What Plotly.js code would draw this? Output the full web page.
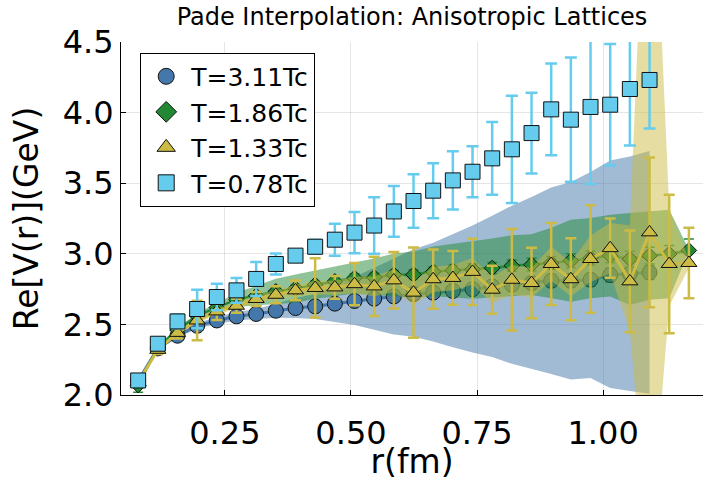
<!DOCTYPE html>
<html>
<head>
<meta charset="utf-8">
<script src="https://cdn.plot.ly/plotly-3.0.1.min.js"></script>
<style>html,body{margin:0;padding:0;background:#fff;}#chart{width:704px;height:481px;}</style>
</head>
<body>
<div id="chart"></div>
<script>
// r (fm) for lattice separations n = 2..30
const rAll = [0.078,0.117,0.156,0.195,0.234,0.273,0.312,0.351,0.390,0.429,0.468,0.507,0.546,0.585,0.624,0.663,0.702,0.741,0.780,0.819,0.858,0.897,0.936,0.975,1.014,1.053,1.092,1.131,1.170];
const r28 = rAll.slice(0, 27);

// T = 3.11 Tc (circles), n = 2..28
const vCircle = [2.10,2.33,2.42,2.49,2.528,2.557,2.574,2.597,2.616,2.628,2.647,2.666,2.682,2.698,2.715,2.725,2.737,2.749,2.769,2.781,2.793,2.809,2.809,2.816,2.85,2.859,2.868];
const eCircle = [0.01,0.01,0.01,0.01,0.01,0.01,0.01,0.015,0.015,0.015,0.02,0.02,0.02,0.02,0.025,0.025,0.03,0.03,0.035,0.035,0.04,0.04,0.045,0.045,0.05,0.05,0.05];
const bandCircleLo = [2.09,2.32,2.405,2.47,2.503,2.527,2.539,2.547,2.546,2.538,2.517,2.496,2.462,2.428,2.412,2.379,2.339,2.301,2.269,2.221,2.183,2.149,2.109,2.12,2.05,2.029,2.008];
const bandCircleHi = [2.11,2.34,2.435,2.51,2.553,2.587,2.609,2.647,2.686,2.718,2.777,2.836,2.902,2.968,3.032,3.079,3.139,3.201,3.269,3.341,3.403,3.469,3.509,3.58,3.66,3.689,3.728];

// T = 1.86 Tc (diamonds), n = 2..30
const vDiamond = [2.07,2.34,2.46,2.56,2.62,2.675,2.703,2.734,2.753,2.781,2.805,2.829,2.833,2.852,2.852,2.874,2.882,2.89,2.899,2.916,2.923,2.935,2.951,2.97,2.987,2.963,2.987,2.999,3.024];
const eDiamond = [0.05,0.02,0.02,0.02,0.02,0.02,0.02,0.025,0.025,0.025,0.03,0.03,0.03,0.03,0.035,0.035,0.035,0.04,0.04,0.04,0.045,0.045,0.05,0.05,0.05,0.055,0.06,0.06,0.08];
const bandDiamondLo = [2.06,2.33,2.445,2.54,2.59,2.625,2.633,2.644,2.653,2.681,2.70,2.719,2.706,2.702,2.687,2.70,2.69,2.682,2.689,2.701,2.708,2.685,2.661,2.686,2.697,2.637,2.674,2.686,3.02];
const bandDiamondHi = [2.08,2.35,2.475,2.58,2.65,2.725,2.773,2.824,2.853,2.881,2.91,2.939,2.966,3.002,3.017,3.052,3.07,3.092,3.109,3.131,3.138,3.185,3.241,3.254,3.277,3.289,3.30,3.312,3.03];

// T = 1.33 Tc (triangles), n = 2..30
const vTriangle = [2.09,2.32,2.44,2.528,2.592,2.632,2.68,2.71,2.741,2.758,2.762,2.785,2.769,2.812,2.725,2.82,2.829,2.872,2.746,2.816,2.793,2.928,2.82,2.963,3.04,2.805,3.152,2.928,2.935];
const eTriangle = [0.02,0.03,0.04,0.14,0.06,0.05,0.05,0.06,0.07,0.21,0.08,0.15,0.21,0.2,0.32,0.21,0.19,0.235,0.17,0.36,0.25,0.29,0.29,0.38,0.21,0.36,0.53,0.49,0.25];
const bandTriangleLo = [2.08,2.31,2.43,2.51,2.57,2.61,2.65,2.68,2.70,2.71,2.71,2.72,2.70,2.73,2.64,2.73,2.74,2.78,2.65,2.71,2.69,2.81,2.70,2.80,2.86,2.45,0.93,2.63,2.90];
const bandTriangleHi = [2.10,2.33,2.45,2.55,2.61,2.66,2.71,2.74,2.78,2.81,2.81,2.84,2.84,2.89,2.80,2.91,2.92,2.97,2.84,2.92,2.90,3.05,2.94,3.13,3.22,3.20,6.50,3.32,2.96];

// T = 0.78 Tc (squares), n = 2..28
const vSquare = [2.103,2.363,2.521,2.609,2.694,2.741,2.822,2.928,2.987,3.05,3.10,3.15,3.20,3.30,3.374,3.447,3.52,3.581,3.676,3.74,3.855,4.023,3.95,4.04,4.056,4.167,4.231];
const eSquare = [0.02,0.03,0.05,0.137,0.094,0.087,0.12,0.075,0.03,0.05,0.113,0.146,0.2,0.18,0.19,0.195,0.207,0.18,0.257,0.38,0.286,0.325,0.44,0.546,0.43,0.4,0.343];

const seriesNames = ['T=3.11Tc','T=1.86Tc','T=1.33Tc','T=0.78Tc'];
const xTickVals = [0.25,0.50,0.75,1.00];
const xTickText = ['0.25','0.50','0.75','1.00'];
const yTickVals = [2.0,2.5,3.0,3.5,4.0,4.5];
const yTickText = ['2.0','2.5','3.0','3.5','4.0','4.5'];

const C_BLUE = '#4477AA', C_GREEN = '#228833', C_YEL = '#CCBB44', C_CYAN = '#66CCEE';
const SYMBOLS = ['circle','diamond','triangle-up','square'];
const COLORS = [C_BLUE, C_GREEN, C_YEL, C_CYAN];

function band(x, lo, hi, fill) {
  return {
    x: x.concat(x.slice().reverse()),
    y: hi.concat(lo.slice().reverse()),
    mode: 'lines', fill: 'toself', fillcolor: fill,
    line: {width: 0, color: 'rgba(0,0,0,0)'},
    hoverinfo: 'skip', showlegend: false, type: 'scatter'
  };
}
function line(x, y, color, w) {
  return {x: x, y: y, type: 'scatter', mode: 'lines', line: {color: color, width: w},
          showlegend: false, hoverinfo: 'skip'};
}
function pts(x, y, err, i, size, ecol, eth, ew) {
  return {x: x, y: y, name: seriesNames[i], type: 'scatter', mode: 'markers', showlegend: false,
          error_y: {type: 'data', array: err, color: ecol, thickness: eth, width: ew},
          marker: {symbol: SYMBOLS[i], size: size, color: COLORS[i], line: {color: '#111', width: 1}}};
}
// legend-only entries (no data drawn), so the legend symbols can be larger than the plot markers
function legendEntry(i) {
  return {x: [null], y: [null], name: seriesNames[i], type: 'scatter', mode: 'markers', showlegend: true,
          marker: {symbol: SYMBOLS[i], size: 20, color: COLORS[i], line: {color: '#111', width: 1}}};
}

const traces = [
  band(r28, bandCircleLo, bandCircleHi, 'rgba(68,119,170,0.5)'),
  line(r28, vCircle, C_BLUE, 3),
  pts(r28, vCircle, eCircle, 0, 15, C_BLUE, 1.5, 5),
  band(rAll, bandDiamondLo, bandDiamondHi, 'rgba(34,136,51,0.5)'),
  line(rAll, vDiamond, C_GREEN, 2.5),
  pts(rAll, vDiamond, eDiamond, 1, 12, C_GREEN, 1.5, 5),
  band(rAll, bandTriangleLo, bandTriangleHi, 'rgba(204,187,68,0.5)'),
  line(rAll, vTriangle, C_YEL, 3),
  pts(rAll, vTriangle, eTriangle, 2, 14, C_YEL, 2.5, 5.5),
  pts(r28, vSquare, eSquare, 3, 15, C_CYAN, 2.5, 6),
  legendEntry(0), legendEntry(1), legendEntry(2), legendEntry(3)
];

const layout = {
  width: 704, height: 481,
  margin: {l: 121, r: 1, t: 42, b: 86},
  paper_bgcolor: '#fff', plot_bgcolor: '#fff',
  font: {family: 'DejaVu Sans, sans-serif', color: '#000'},
  title: {text: 'Pade Interpolation: Anisotropic Lattices', font: {size: 24, color: '#000'},
          xref: 'paper', x: 0.5, xanchor: 'center', yref: 'container', y: 0.965, yanchor: 'middle'},
  showlegend: true,
  legend: {x: 0.033, y: 0.97, xanchor: 'left', yanchor: 'top', bgcolor: '#fff',
           bordercolor: '#000', borderwidth: 1, font: {size: 25, color: '#000'},
           itemsizing: 'trace', itemwidth: 40, traceorder: 'normal'},
  xaxis: {range: [0.044, 1.198], tickvals: xTickVals, ticktext: xTickText,
          ticks: 'inside', ticklen: 5, tickcolor: '#000', showline: true, linecolor: '#000', linewidth: 1,
          showgrid: true, gridcolor: 'rgba(0,0,0,0.1)', gridwidth: 1, zeroline: false, mirror: false,
          ticklabelstandoff: 10,
          tickfont: {size: 32}, title: {text: 'r(fm)', font: {size: 33}, standoff: 8}},
  yaxis: {range: [2.0, 4.5], tickvals: yTickVals, ticktext: yTickText,
          ticks: 'inside', ticklen: 5, tickcolor: '#000', showline: true, linecolor: '#000', linewidth: 1,
          showgrid: true, gridcolor: 'rgba(0,0,0,0.1)', gridwidth: 1, zeroline: false, mirror: false,
          tickfont: {size: 32}, title: {text: 'Re[V(r)](GeV)', font: {size: 33}, standoff: 14}}
};

Plotly.newPlot('chart', traces, layout, {displayModeBar: false, staticPlot: true});
</script>
</body>
</html>
